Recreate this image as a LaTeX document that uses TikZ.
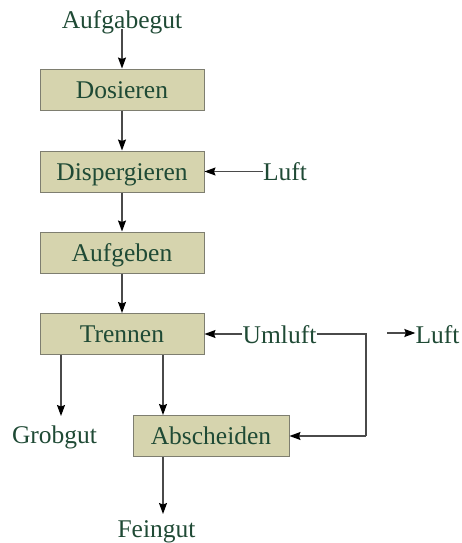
\documentclass[tikz,border=0pt]{standalone}
\usepackage{fontspec}
\setmainfont{Liberation Serif}
\usetikzlibrary{arrows.meta,calc}
\definecolor{boxfill}{HTML}{D6D4AE}
\definecolor{boxline}{HTML}{7E7E70}
\definecolor{txt}{HTML}{1F4A35}
\definecolor{flow}{HTML}{4A4A4A}
\begin{document}
\begin{tikzpicture}[x=1pt,y=-1pt,
  every node/.style={font=\fontsize{25.5}{30}\selectfont, text=txt, inner sep=0pt},
  stepbox/.style={draw=boxline, fill=boxfill, line width=1pt,
    minimum width=164pt, minimum height=41pt, text height=22pt, text depth=5pt},
  lbl/.style={anchor=base},
  arr/.style={draw=flow, line width=1.2pt,
    -{Stealth[length=11pt,width=8pt,inset=1.5pt,color=black]}},
  ln/.style={draw=flow, line width=1.2pt}]
\useasboundingbox (0,0) rectangle (462,543);

% process steps
\node[stepbox] (dos)  at (122,89.5)  {Dosieren};
\node[stepbox] (disp) at (122,171.5) {Dispergieren};
\node[stepbox] (aufg) at (122,252.5) {Aufgeben};
\node[stepbox] (tren) at (122,334)   {Trennen};
\node[stepbox, minimum width=156pt] (absch) at (211,436) {Abscheiden};

% material and air streams
\node[lbl] (gut)   at (122,29)   {Aufgabegut};
\node[lbl] (luft1) at (285,180)  {Luft};
\node[lbl] (umluft) at (279.5,343) {Umluft};
\node[lbl] (luft2) at (437.5,343) {Luft};
\node[lbl] (grob)  at (54.5,443) {Grobgut};
\node[lbl] (fein)  at (156.5,537) {Feingut};

% helper points
\coordinate (gx) at (61,0);
\coordinate (fx) at (163,0);
\coordinate (loop) at (366,0);
\coordinate (ls) at (387,333);

% main flow
\draw[arr] (gut.base) -- (dos.north);
\draw[arr] (dos) -- (disp);
\draw[arr] (disp) -- (aufg);
\draw[arr] (aufg) -- (tren);
\draw[arr] (tren.south -| fx) -- (absch.north -| fx);
\draw[arr] (tren.south -| gx) -- ($(tren.south -| gx)+(0,61)$);
\draw[arr] (absch.south -| fx) -- ($(absch.south -| fx)+(0,57)$);

% air
\draw[arr] (luft1.west |- disp.east) -- (disp.east);
\draw[arr] (umluft.west |- tren.east) -- (tren.east);
\draw[ln] (umluft.east |- tren.east) -- (loop |- tren.east) -- (loop |- absch.east);
\draw[arr] (loop |- absch.east) -- (absch.east);
\draw[arr] (ls) -- (luft2.west |- ls);
\end{tikzpicture}
\end{document}
